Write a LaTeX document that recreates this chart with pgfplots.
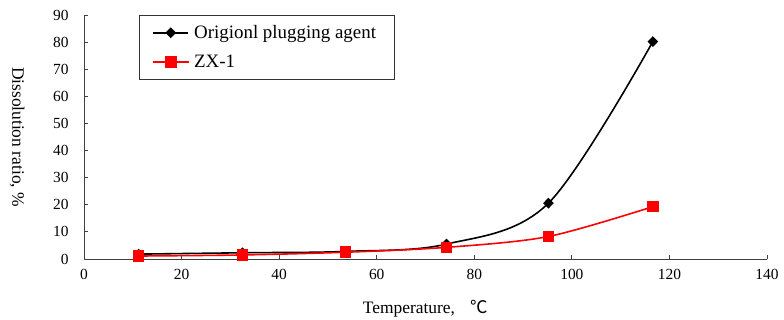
\documentclass[border=0pt]{standalone}
\usepackage{fontspec}
\setmainfont{Liberation Serif}
\newfontfamily\cjk{Noto Sans CJK SC}
\usepackage{pgfplots}
\pgfplotsset{compat=1.18}
\begin{document}
\begin{tikzpicture}[x=1bp,y=1bp]
\path[use as bounding box] (0,0) rectangle (784,319);
\begin{axis}[
  at={(84bp,60bp)}, anchor=origin,
  scale only axis, width=683bp, height=244bp,
  xmin=0, xmax=140, ymin=0, ymax=90,
  xtick={0,20,...,140}, ytick={0,10,...,90},
  axis x line*=bottom, axis y line*=left,
  axis line style={black!75, line width=0.8pt},
  tick style={black!75, line width=0.8pt},
  tick align=inside, major tick length=4bp,
  /pgf/number format/assume math mode=true,
  ticklabel style={font=\fontsize{15.5}{17}\selectfont},
  xticklabel style={yshift=-7bp},
  yticklabel style={xshift=-12bp},
  xlabel={Temperature,\hspace{0.9em}{\cjk ℃}},
  xlabel style={font=\fontsize{17.5}{19}\selectfont, at={(axis description cs:0.5,0)}, anchor=center, yshift=-50bp},
  ylabel={Dissolution ratio, \%},
  ylabel style={font=\fontsize{17.5}{19}\selectfont, rotate=180, at={(axis description cs:-0.098,0.5)}, anchor=center},
  legend style={at={(rel axis cs:0.0805,1)}, anchor=north west, draw=black!80, line width=0.8pt,
    font=\fontsize{19}{21}\selectfont, inner xsep=13bp, inner ysep=8bp,
    row sep=11bp, legend cell align=left, nodes={inner xsep=5bp}},
  legend image code/.code={
    \draw[mark repeat=2,mark phase=2] plot coordinates {(0cm,0cm) (0.62cm,0cm) (1.24cm,0cm)};},
  clip=false,
]
\addplot[black, line width=1.6pt, smooth, tension=0.55, mark=diamond*, mark size=4.3bp, mark options={solid, fill=black, xscale=1.3}]
  coordinates {(11.2,1.8) (32.5,2.3) (53.6,2.8) (74.3,5.5) (95.2,20.6) (116.6,80.2)};
\addlegendentry{Origionl plugging agent}
\addplot[red, line width=1.6pt, smooth, tension=0.5, mark=square*, mark size=5bp, mark options={solid, fill=red}]
  coordinates {(11.2,1.1) (32.5,1.5) (53.6,2.5) (74.3,4.3) (95.2,8.3) (116.6,19.3)};
\addlegendentry{ZX-1}
\end{axis}
\end{tikzpicture}
\end{document}
